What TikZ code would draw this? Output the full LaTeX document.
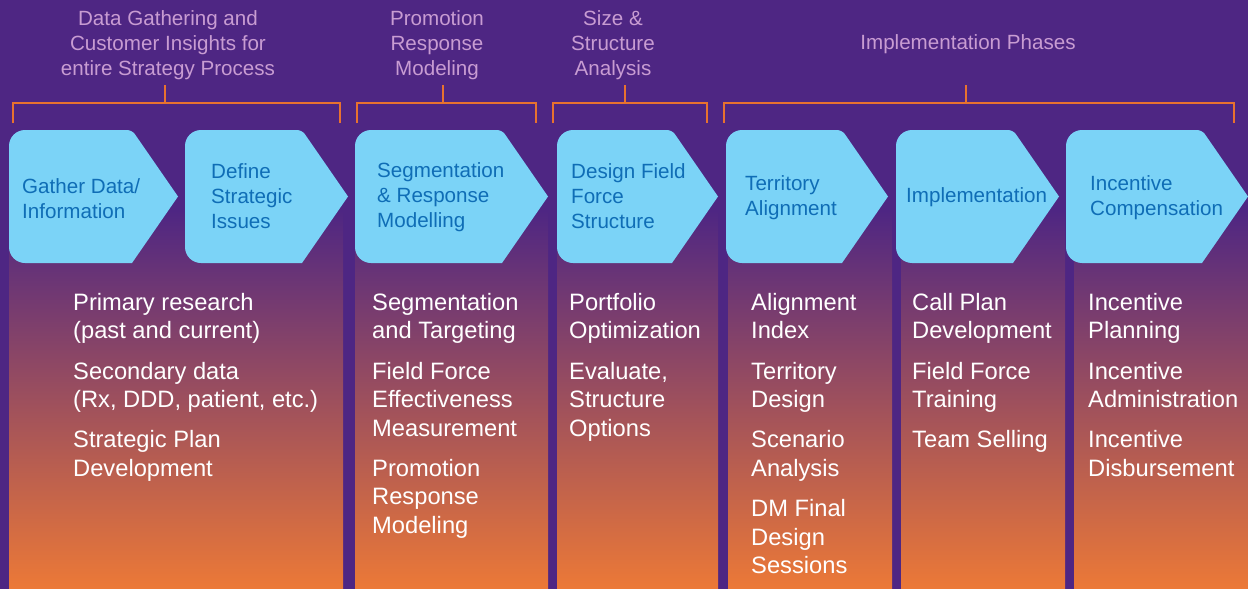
\documentclass[tikz,border=0pt]{standalone}
\usepackage{fontspec}
\setmainfont{Liberation Sans}
\definecolor{bgpurple}{HTML}{4E2683}
\definecolor{orangeb}{HTML}{EC7937}
\definecolor{chevfill}{HTML}{7BD3F7}
\definecolor{chevtext}{HTML}{0F6DB6}
\definecolor{headtext}{HTML}{C89CD2}
\definecolor{brackcol}{HTML}{E8722F}
\newcommand\chevshape[2]{%
  \fill[chev] (#1,196.5) [rounded corners=16pt] -- (#1,130) [rounded corners=5pt] -- ({#2-46},130) [sharp corners] -- (#2,196.5) -- ({#2-46},263) [rounded corners=16pt] -- (#1,263) -- cycle;}
\newcommand\brackshape[3]{%
  \draw[brk] (#1,123) -- (#1,103) -- (#2,103) -- (#2,123);
  \draw[brk] (#3,103) -- (#3,85);}
\begin{document}
\begin{tikzpicture}[x=1pt,y=-1pt,
  colbox/.style={top color=bgpurple,bottom color=orangeb,draw=none},
  chev/.style={fill=chevfill},
  chevlabel/.style={anchor=west,align=left,text=chevtext,font=\fontsize{20.6}{25}\selectfont,inner sep=0pt},
  headlabel/.style={align=center,text=headtext,font=\fontsize{20.6}{25}\selectfont,inner sep=0pt},
  bodylabel/.style={anchor=north west,align=left,text=white,font=\fontsize{23.7}{28.6}\selectfont,inner sep=0pt},
  brk/.style={draw=brackcol,line width=2.5pt}]
\fill[bgpurple] (0,0) rectangle (1248,589);
\useasboundingbox (0,0) rectangle (1248,589);
% columns
\fill[colbox] (9,210) rectangle (343,589);
\fill[colbox] (355,210) rectangle (548,589);
\fill[colbox] (557,210) rectangle (718,589);
\fill[colbox] (728,210) rectangle (892,589);
\fill[colbox] (901,210) rectangle (1065,589);
\fill[colbox] (1074,210) rectangle (1248,589);
% brackets
\brackshape{13}{340}{165}
\brackshape{357}{536}{443}
\brackshape{553}{707}{625}
\brackshape{724}{1234}{966}
% header labels
\node[headlabel] (h1) at (168,45) {Data Gathering and\\Customer Insights for\\entire Strategy Process};
\node[headlabel] (h2) at (437,45) {Promotion\\Response\\Modeling};
\node[headlabel] (h3) at (613,45) {Size \&\\Structure\\Analysis};
\node[headlabel] (h4) at (968,44) {Implementation Phases};
% chevrons
\chevshape{9}{178}
\chevshape{185}{348}
\chevshape{355}{548}
\chevshape{557}{718}
\chevshape{726}{888}
\chevshape{896}{1059}
\chevshape{1066}{1248}
\node[chevlabel] (c1) at (22,198.5) {Gather Data/\\Information};
\node[chevlabel] (c2) at (211,196.5) {Define\\Strategic\\Issues};
\node[chevlabel] (c3) at (377,197.5) {Segmentation\\\& Response\\Modelling};
\node[chevlabel] (c4) at (571,196.5) {Design Field\\Force\\Structure};
\node[chevlabel] (c5) at (745,197.5) {Territory\\Alignment};
\node[chevlabel] (c6) at (906,197.5) {Implementation};
\node[chevlabel] (c7) at (1090,197.5) {Incentive\\Compensation};
% body texts
\node[bodylabel] (b1) at (73,293) {Primary research\\(past and current)\\[11.5pt]Secondary data\\(Rx, DDD, patient, etc.)\\[11.5pt]Strategic Plan\\Development};
\node[bodylabel] (b2) at (372,293) {Segmentation\\and Targeting\\[11.5pt]Field Force\\Effectiveness\\Measurement\\[11.5pt]Promotion\\Response\\Modeling};
\node[bodylabel] (b3) at (569,293) {Portfolio\\Optimization\\[11.5pt]Evaluate,\\Structure\\Options};
\node[bodylabel] (b4) at (751,293) {Alignment\\Index\\[11.5pt]Territory\\Design\\[11.5pt]Scenario\\Analysis\\[11.5pt]DM Final\\Design\\Sessions};
\node[bodylabel] (b5) at (912,293) {Call Plan\\Development\\[11.5pt]Field Force\\Training\\[11.5pt]Team Selling};
\node[bodylabel] (b6) at (1088,293) {Incentive\\Planning\\[11.5pt]Incentive\\Administration\\[11.5pt]Incentive\\Disbursement};
\end{tikzpicture}
\end{document}
